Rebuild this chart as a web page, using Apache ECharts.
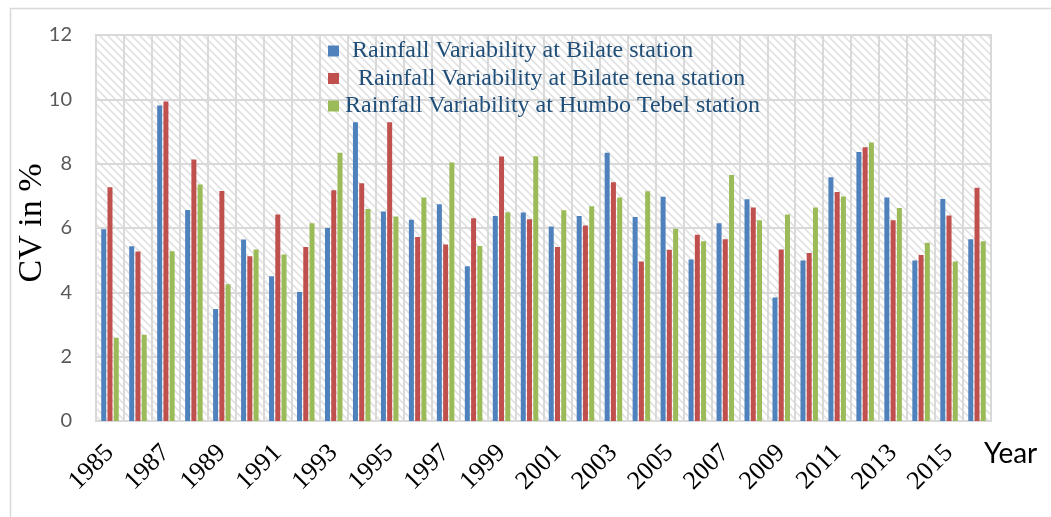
<!DOCTYPE html>
<html>
<head>
<meta charset="utf-8">
<script src="https://cdn.jsdelivr.net/npm/echarts@6/dist/echarts.min.js"></script>
<style>
html,body{margin:0;padding:0;background:#fff;}
#chart{width:1051px;height:517px;}
</style>
</head>
<body>
<div id="chart"></div>
<script>
const years = ['1985','1986','1987','1988','1989','1990','1991','1992','1993','1994','1995','1996','1997','1998','1999','2000','2001','2002','2003','2004','2005','2006','2007','2008','2009','2010','2011','2012','2013','2014','2015','2016'];
const bilate = [5.96,5.43,9.81,6.56,3.48,5.64,4.50,4.01,6.00,9.29,6.51,6.26,6.74,4.81,6.37,6.48,6.05,6.37,8.34,6.34,6.97,5.02,6.15,6.89,3.84,4.99,7.58,8.36,6.95,4.99,6.90,5.65];
const bilateTena = [7.27,5.27,9.93,8.13,7.15,5.12,6.42,5.41,7.17,7.39,9.29,5.72,5.49,6.30,8.22,6.27,5.41,6.08,7.42,4.96,5.32,5.79,5.65,6.64,5.33,5.22,7.12,8.51,6.24,5.16,6.39,7.25];
const humboTebel = [2.59,2.68,5.28,7.35,4.25,5.33,5.18,6.15,8.34,6.59,6.36,6.95,8.04,5.44,6.49,8.23,6.55,6.68,6.95,7.14,5.98,5.59,7.65,6.24,6.42,6.64,6.98,8.66,6.62,5.54,4.96,5.59];
const seriesNames = ['Rainfall Variability at Bilate station', ' Rainfall Variability at Bilate tena station', 'Rainfall Variability at Humbo Tebel station'];
const yTicks = [0,2,4,6,8,10,12];

// hatch pattern for plot background
const pc = document.createElement('canvas');
pc.width = 8; pc.height = 8;
const ctx = pc.getContext('2d');
ctx.fillStyle = '#ffffff';
ctx.fillRect(0,0,8,8);
ctx.strokeStyle = '#e2e2e2';
ctx.lineWidth = 1.6;
ctx.beginPath();
ctx.moveTo(-1,-1); ctx.lineTo(9,9);
ctx.moveTo(-5,3); ctx.lineTo(5,13);
ctx.moveTo(3,-5); ctx.lineTo(13,5);
ctx.stroke();

const chart = echarts.init(document.getElementById('chart'));
const colors = ['#4F81BD','#C0504D','#9BBB59'];
const data = [bilate, bilateTena, humboTebel];

chart.setOption({
  animation: false,
  color: colors,
  graphic: [
    {type:'rect', left: 8, top: 6, shape:{width: 1100, height: 600}, style:{fill:'none', stroke:'#d9d9d9', lineWidth:1.5}, silent:true, z:-10},
    {type:'text', left: 984, top: 440, style:{text:'Year', font:'28px Lato', fill:'#000'}}
  ],
  grid: {
    left: 96, top: 35, right: 60, bottom: 96,
    containLabel: false,
    outerBoundsMode: 'none',
    show: true,
    backgroundColor: {image: pc, repeat: 'repeat'},
    borderColor: '#d9d9d9', borderWidth: 2
  },
  legend: {
    orient: 'vertical',
    left: 323, top: 34,
    itemWidth: 11, itemHeight: 11,
    itemGap: 3.5,
    icon: 'rect',
    textStyle: {fontFamily: 'Liberation Serif', fontSize: 24, color: '#1F4E79', lineHeight: 24, padding:[0,0,0,8]},
    data: [
      {name: seriesNames[0]},
      {name: seriesNames[1]},
      {name: seriesNames[2], textStyle: {padding:[0,0,0,1]}}
    ]
  },
  xAxis: {
    type: 'category',
    data: years,
    axisLine: {lineStyle: {color: '#d9d9d9', width: 2}},
    axisTick: {show: false},
    splitLine: {show: true, interval: 0, lineStyle: {color: '#d9d9d9', width: 2}},
    axisLabel: {interval: 1, rotate: 45, margin: 28, fontFamily: 'Liberation Serif', fontSize: 26, color: '#000'}
  },
  yAxis: {
    type: 'value',
    min: 0, max: 12, interval: 2,
    name: 'CV in %',
    nameLocation: 'middle',
    nameGap: 47,
    nameMoveOverlap: false,
    nameTextStyle: {fontFamily: 'Liberation Serif', fontSize: 34, color: '#000', padding: [0,0,0,10]},
    axisLine: {show: false},
    axisTick: {show: false},
    splitLine: {lineStyle: {color: '#d9d9d9', width: 2}},
    axisLabel: {margin: 24, fontFamily: 'Lato', fontSize: 20, color: '#595959',
      formatter: v => yTicks.includes(v) ? String(v) : ''}
  },
  series: data.map((d, i) => ({
    name: seriesNames[i],
    type: 'bar',
    data: d,
    barWidth: 5,
    barGap: '25%'
  }))
});
</script>
</body>
</html>
